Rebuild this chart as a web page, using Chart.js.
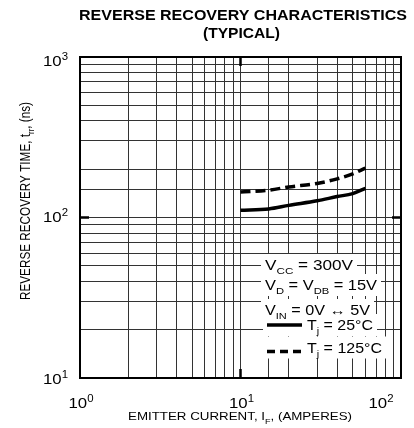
<!DOCTYPE html>
<html><head><meta charset="utf-8">
<script src="https://cdn.jsdelivr.net/npm/chart.js@4"></script>
<style>html,body{margin:0;padding:0;background:#fff}#wrap{width:414px;height:428px;position:relative}</style>
</head><body><div id="wrap"><canvas id="c" width="414" height="428"></canvas></div>
<script>
// ---- data ----
const currentA = [10, 15, 20, 30, 40, 50, 60];
const trr25 = [111, 113, 119, 127, 135, 141, 152];
const trr125 = [144, 148, 155, 163, 174, 187, 203];
const xTickValues = [1, 10, 100];
const xTickExp = ['0', '1', '2'];
const yTickValues = [10, 100, 1000];
const yTickExp = ['1', '2', '3'];
const titleLines = ['REVERSE RECOVERY CHARACTERISTICS', '(TYPICAL)'];
const xTitle = [{t:'EMITTER CURRENT, I'},{t:'F',s:'sub'},{t:', (AMPERES)'}];
const yTitle = [{t:'REVERSE RECOVERY TIME, t'},{t:'rr',s:'sub'},{t:', (ns)'}];
const legendLines = [
  [{t:'V'},{t:'CC',s:'sub'},{t:' = 300V'}],
  [{t:'V'},{t:'D',s:'sub'},{t:' = V'},{t:'DB',s:'sub'},{t:' = 15V'}],
  [{t:'V'},{t:'IN',s:'sub'},{t:' = 0V \u2194 5V'}],
  [{t:'T'},{t:'j',s:'sub'},{t:' = 25\u00B0C'}],
  [{t:'T'},{t:'j',s:'sub'},{t:' = 125\u00B0C'}]
];

const FONT = '"Liberation Sans", Arial, Helvetica, sans-serif';
function setFont(ctx, size, bold){ ctx.font = (bold ? 'bold ' : '') + size + 'px ' + FONT; }
function measureRich(ctx, segs, size, bold){
  let w = 0;
  for (const s of segs){ setFont(ctx, s.s ? size*0.68 : size, bold); w += ctx.measureText(s.t).width; }
  return w;
}
function drawRich(ctx, segs, x, y, size, o){
  o = o || {};
  const w = measureRich(ctx, segs, size, o.bold);
  const sx = o.w ? o.w / w : (o.sx || 1);
  ctx.save();
  ctx.translate(x, y);
  if (o.rot) ctx.rotate(o.rot);
  ctx.scale(sx, o.sy || 1);
  ctx.fillStyle = '#000';
  ctx.textBaseline = 'alphabetic';
  ctx.textAlign = 'left';
  let cx = o.align === 'center' ? -w/2 : (o.align === 'right' ? -w : 0);
  const base = 0.358*size;
  for (const s of segs){
    const fs = s.s ? size*0.68 : size;
    setFont(ctx, fs, o.bold);
    const dy = s.s === 'sub' ? size*0.3 : (s.s === 'sup' ? -size*0.42 : 0);
    ctx.fillText(s.t, cx, base + dy);
    cx += ctx.measureText(s.t).width;
  }
  ctx.restore();
}

const decor = {
  id: 'decor',
  afterDraw(chart){
    const ctx = chart.ctx, a = chart.chartArea;
    const xs = chart.scales.x, ys = chart.scales.y;
    ctx.save();
    // border
    ctx.strokeStyle = '#000'; ctx.lineWidth = 2;
    ctx.strokeRect(a.left, a.top, a.right - a.left, a.bottom - a.top);
    // major tick marks
    ctx.lineWidth = 2.5;
    const px10 = xs.getPixelForValue(10), py100 = ys.getPixelForValue(100);
    ctx.beginPath();
    ctx.moveTo(px10, a.top); ctx.lineTo(px10, a.top + 9);
    ctx.moveTo(px10, a.bottom); ctx.lineTo(px10, a.bottom - 9);
    ctx.moveTo(a.left, py100); ctx.lineTo(a.left + 9, py100);
    ctx.moveTo(a.right, py100); ctx.lineTo(a.right - 9, py100);
    ctx.stroke();
    // titles
    drawRich(ctx, [{t:titleLines[0]}], 243, 15, 15, {bold:true, align:'center', w:328});
    drawRich(ctx, [{t:titleLines[1]}], 241.5, 32.5, 15, {bold:true, align:'center', w:77});
    // x tick labels
    const xCenters = [0, 0, -21];
    xTickValues.forEach((v, i) => {
      drawRich(ctx, [{t:'10'},{t:xTickExp[i],s:'sup'}], xs.getPixelForValue(v) + 1 + xCenters[i], 402.5, 15, {align:'center', sx:1.12});
    });
    // y tick labels
    const yOff = [1, -0.5, 3.5];
    yTickValues.forEach((v, i) => {
      drawRich(ctx, [{t:'10'},{t:yTickExp[i],s:'sup'}], 68, ys.getPixelForValue(v) + yOff[i], 15, {align:'right', sx:1.12});
    });
    // axis titles
    drawRich(ctx, xTitle, 240, 416, 11.6, {align:'center', w:224});
    drawRich(ctx, yTitle, 24.5, 201, 14, {align:'center', w:198, rot:-Math.PI/2});
    // legend
    const L = [
      {x:265, y:265, w:88},
      {x:265, y:285, w:112},
      {x:265, y:310, w:105},
      {x:307, y:325, w:66},
      {x:307, y:347.5, w:75}
    ];
    ctx.fillStyle = '#fff';
    L.forEach((l, i) => {
      const x0 = i >= 3 ? 263 : l.x - 4;
      ctx.fillRect(x0, l.y - 11, (l.x + l.w + 4) - x0, 22);
    });
    L.forEach((l, i) => drawRich(ctx, legendLines[i], l.x, l.y, 14, {w:l.w}));
    ctx.strokeStyle = '#000'; ctx.lineWidth = 3.5;
    ctx.beginPath(); ctx.moveTo(267, 325); ctx.lineTo(302, 325); ctx.stroke();
    ctx.setLineDash([8, 5]);
    ctx.beginPath(); ctx.moveTo(267, 351.5); ctx.lineTo(302, 351.5); ctx.stroke();
    ctx.restore();
  }
};

new Chart(document.getElementById('c'), {
  type: 'line',
  data: {
    datasets: [
      {data: currentA.map((x, i) => ({x, y: trr25[i]})), borderColor:'#000', borderWidth:3.5, pointRadius:0, cubicInterpolationMode:'monotone', fill:false},
      {data: currentA.map((x, i) => ({x, y: trr125[i]})), borderColor:'#000', borderWidth:3.5, borderDash:[10,5], pointRadius:0, cubicInterpolationMode:'monotone', fill:false}
    ]
  },
  options: {
    animation:false, responsive:false, devicePixelRatio:1,
    layout:{padding:{left:80, right:13, top:57, bottom:50}},
    plugins:{legend:{display:false}, title:{display:false}, tooltip:{enabled:false}},
    scales:{
      x:{type:'logarithmic', min:1, max:100, ticks:{display:false}, grid:{color:'#333', lineWidth:1, drawTicks:false}, border:{display:false}},
      y:{type:'logarithmic', min:10, max:1000, ticks:{display:false}, grid:{color:'#333', lineWidth:1, drawTicks:false}, border:{display:false}}
    }
  },
  plugins:[decor]
});
</script>
</body></html>
